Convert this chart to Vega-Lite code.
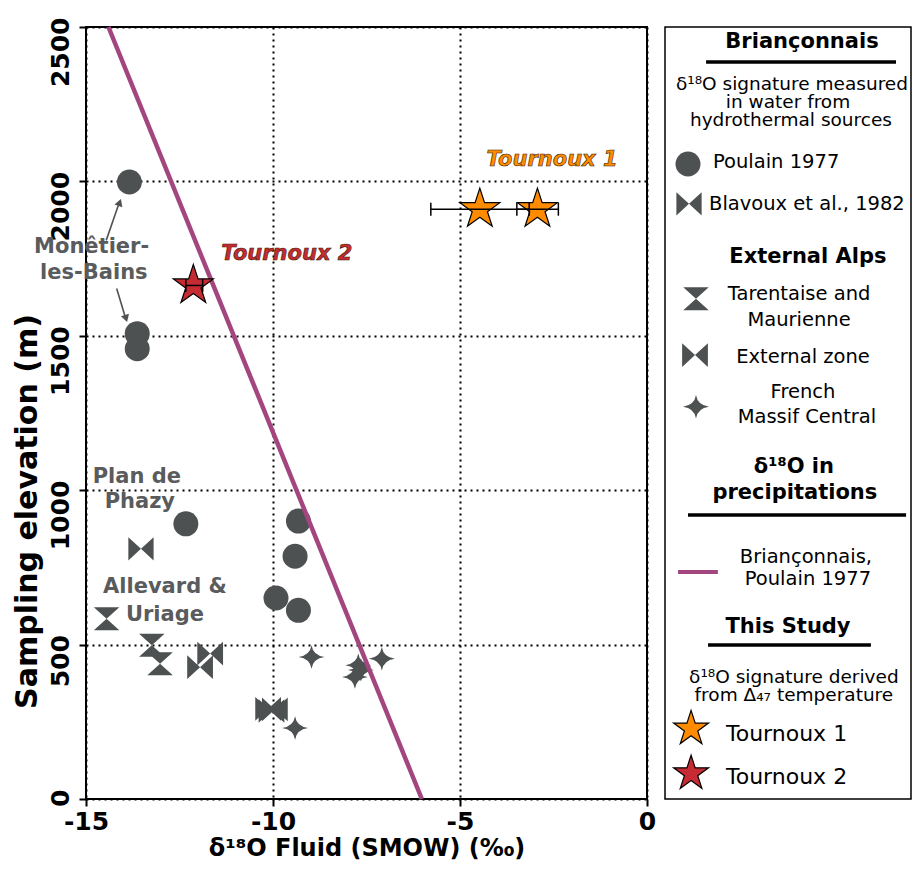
{
  "$schema": "https://vega.github.io/schema/vega-lite/v6.json",
  "background": "white",
  "padding": {"left": 11, "top": 15, "right": 1, "bottom": 0},
  "spacing": 7,
  "config": {
    "font": "DejaVu Sans",
    "view": {"stroke": null},
    "axis": {
      "labelFont": "DejaVu Sans", "labelFontWeight": "bold", "labelFontSize": 25, "labelColor": "black",
      "titleFont": "DejaVu Sans", "titleFontWeight": "bold", "titleFontSize": 26, "titleColor": "black",
      "tickColor": "black", "tickWidth": 2, "tickSize": 7, "domain": false, "labelFlush": false, "labelOverlap": false,
      "gridColor": "black", "gridDash": [2, 4], "gridWidth": 2, "gridOpacity": 1, "labelPadding": 3,
      "labelExpr": "'' + datum.value"
    },
    "axisY": {"labelAngle": -90, "labelAlign": "right", "labelBaseline": "bottom", "labelPadding": 6, "labelOffset": -10, "titlePadding": 6, "titleFontSize": 30, "titleY": 484},
    "axisX": {"titlePadding": 2, "titleFontSize": 24}
  },
  "datasets": {
    "obs": [
      {"group": "Poulain", "x": -13.84, "y": 1998},
      {"group": "Poulain", "x": -13.63, "y": 1507},
      {"group": "Poulain", "x": -13.63, "y": 1458},
      {"group": "Poulain", "x": -12.33, "y": 891},
      {"group": "Poulain", "x": -9.32, "y": 900},
      {"group": "Poulain", "x": -9.41, "y": 786},
      {"group": "Poulain", "x": -9.92, "y": 651},
      {"group": "Poulain", "x": -9.32, "y": 611},
      {"group": "Blavoux", "x": -13.53, "y": 810},
      {"group": "Tarentaise", "x": -14.45, "y": 584},
      {"group": "Tarentaise", "x": -13.24, "y": 498},
      {"group": "Tarentaise", "x": -13.02, "y": 438},
      {"group": "External", "x": -11.68, "y": 471},
      {"group": "External", "x": -11.95, "y": 427},
      {"group": "External", "x": -10.13, "y": 292},
      {"group": "External", "x": -10.04, "y": 285},
      {"group": "External", "x": -9.95, "y": 290},
      {"group": "Massif", "x": -8.97, "y": 460},
      {"group": "Massif", "x": -7.72, "y": 433},
      {"group": "Massif", "x": -7.81, "y": 395},
      {"group": "Massif", "x": -7.65, "y": 418},
      {"group": "Massif", "x": -7.09, "y": 454},
      {"group": "Massif", "x": -9.41, "y": 230}
    ],
    "stars": [
      {"sample": "Tournoux 1", "x": -4.47, "y": 1910, "lo": -5.78, "hi": -3.15},
      {"sample": "Tournoux 1", "x": -2.93, "y": 1910, "lo": -3.48, "hi": -2.37},
      {"sample": "Tournoux 2", "x": -12.13, "y": 1663, "lo": -12.33, "hi": -11.88}
    ],
    "precip": [
      {"x": -14.4, "y": 2500},
      {"x": -6.02, "y": 0}
    ],
    "sites": [
      {"x": -14.85, "y": 1787, "text": "Monêtier-"},
      {"x": -14.79, "y": 1704, "text": "les-Bains"},
      {"x": -13.64, "y": 1043, "text": "Plan de"},
      {"x": -13.56, "y": 962, "text": "Phazy"},
      {"x": -12.89, "y": 687, "text": "Allevard &"},
      {"x": -12.89, "y": 596, "text": "Uriage"}
    ],
    "samplelabels": [
      {"x": -2.54, "y": 2069, "sample": "Tournoux 1"},
      {"x": -9.63, "y": 1765, "sample": "Tournoux 2"}
    ],
    "arrows": [
      {"x": -14.46, "y": 1809, "x2": -14.1, "y2": 1935},
      {"x": -14.18, "y": 1653, "x2": -13.93, "y2": 1553}
    ],
    "legtext": [
      {"cls": "head", "x": 55.7, "y": 1.94, "text": "Briançonnais"},
      {"cls": "head", "x": 58.1, "y": 29.8, "text": "External Alps"},
      {"cls": "head", "x": 52.4, "y": 57.0, "text": "δ¹⁸O in"},
      {"cls": "head", "x": 52.8, "y": 60.4, "text": "precipitations"},
      {"cls": "head", "x": 50.0, "y": 77.7, "text": "This Study"},
      {"cls": "body", "x": 51.6, "y": 7.38, "text": "δ¹⁸O signature measured"},
      {"cls": "body", "x": 50.0, "y": 9.71, "text": "in water from"},
      {"cls": "body", "x": 51.2, "y": 12.05, "text": "hydrothermal sources"},
      {"cls": "body", "x": 52.4, "y": 84.2, "text": "δ¹⁸O signature derived"},
      {"cls": "body", "x": 52.4, "y": 86.5, "text": "from Δ₄₇ temperature"},
      {"cls": "label", "x": 54.5, "y": 34.6, "text": "Tarentaise and"},
      {"cls": "label", "x": 54.5, "y": 37.95, "text": "Maurienne"},
      {"cls": "label", "x": 56.1, "y": 42.7, "text": "External zone"},
      {"cls": "label", "x": 56.1, "y": 47.3, "text": "French"},
      {"cls": "label", "x": 57.7, "y": 50.5, "text": "Massif Central"},
      {"cls": "label", "x": 57.3, "y": 68.65, "text": "Briançonnais,"},
      {"cls": "label", "x": 58.1, "y": 71.5, "text": "Poulain 1977"},
      {"cls": "item", "x": 19.5, "y": 17.5, "text": "Poulain 1977"},
      {"cls": "item", "x": 17.9, "y": 22.9, "text": "Blavoux et al., 1982"},
      {"cls": "big", "x": 24.8, "y": 91.6, "text": "Tournoux 1"},
      {"cls": "big", "x": 24.8, "y": 97.15, "text": "Tournoux 2"}
    ],
    "legsym": [
      {"group": "Poulain", "x": 9.35, "y": 17.75},
      {"group": "Blavoux", "x": 9.76, "y": 22.9},
      {"group": "Tarentaise", "x": 12.6, "y": 35.2},
      {"group": "External", "x": 12.2, "y": 42.5},
      {"group": "Massif", "x": 12.6, "y": 49.2}
    ],
    "legstar": [
      {"sample": "Tournoux 1", "x": 10.6, "y": 90.9},
      {"sample": "Tournoux 2", "x": 10.6, "y": 96.7}
    ],
    "legrule": [
      {"x": 16.7, "x2": 93.9, "y": 4.53},
      {"x": 9.35, "x2": 98.0, "y": 63.2},
      {"x": 17.5, "x2": 83.7, "y": 80.05}
    ],
    "legline": [
      {"x": 5.3, "y": 70.6},
      {"x": 21.5, "y": 70.6}
    ]
  },
  "hconcat": [
    {
      "width": 561,
      "height": 772,
      "view": {"stroke": "black", "strokeWidth": 2},
      "layer": [
        {
          "data": {"name": "obs"},
          "mark": {"type": "point", "filled": true, "opacity": 1, "strokeWidth": 0, "color": "#4e5152"},
          "encoding": {
            "x": {"field": "x", "type": "quantitative", "scale": {"domain": [-15, 0], "nice": false, "zero": false}, "axis": {"values": [-15, -10, -5, 0], "grid": true}, "title": "δ¹⁸O Fluid (SMOW) (‰)"},
            "y": {"field": "y", "type": "quantitative", "scale": {"domain": [0, 2500], "nice": false}, "axis": {"values": [0, 500, 1000, 1500, 2000, 2500], "grid": true}, "title": "Sampling elevation (m)"},
            "shape": {"field": "group", "type": "nominal", "legend": null, "scale": {"domain": ["Poulain", "Blavoux", "Tarentaise", "External", "Massif"], "range": ["circle", "M-1,-0.92L0,0L-1,0.92ZM1,-0.92L0,0L1,0.92Z", "M-1,-0.9L1,-0.9L0,0ZM-1,0.9L1,0.9L0,0Z", "M-1,-0.92L0,0L-1,0.92ZM1,-0.92L0,0L1,0.92Z", "M0,-0.9Q0.12,-0.12 1,0Q0.12,0.12 0,0.9Q-0.12,0.12 -1,0Q-0.12,-0.12 0,-0.9Z"]}},
            "size": {"field": "group", "type": "nominal", "legend": null, "scale": {"domain": ["Poulain", "Blavoux", "Tarentaise", "External", "Massif"], "range": [625, 676, 625, 676, 760]}}
          }
        },
        {
          "data": {"name": "precip"},
          "mark": {"type": "line", "color": "#a3467f", "strokeWidth": 4.5},
          "encoding": {
            "x": {"field": "x", "type": "quantitative", "title": "δ¹⁸O Fluid (SMOW) (‰)"},
            "y": {"field": "y", "type": "quantitative", "title": "Sampling elevation (m)"}
          }
        },
        {
          "data": {"name": "stars"},
          "mark": {"type": "point", "filled": true, "opacity": 1, "stroke": "black", "strokeWidth": 1.2, "shape": "M0,-1L0.2245,-0.309L0.951,-0.309L0.363,0.118L0.588,0.809L0,0.382L-0.588,0.809L-0.363,0.118L-0.951,-0.309L-0.2245,-0.309Z", "size": 1770},
          "encoding": {
            "x": {"field": "x", "type": "quantitative", "title": "δ¹⁸O Fluid (SMOW) (‰)"},
            "y": {"field": "y", "type": "quantitative", "title": "Sampling elevation (m)"},
            "fill": {"field": "sample", "type": "nominal", "legend": null, "scale": {"domain": ["Tournoux 1", "Tournoux 2"], "range": ["#ff8c00", "#c62b33"]}}
          }
        },
        {
          "data": {"name": "stars"},
          "mark": {"type": "rule", "color": "black", "strokeWidth": 1.5},
          "encoding": {
            "x": {"field": "lo", "type": "quantitative", "title": "δ¹⁸O Fluid (SMOW) (‰)"},
            "x2": {"field": "hi"},
            "y": {"field": "y", "type": "quantitative", "title": "Sampling elevation (m)"}
          }
        },
        {
          "data": {"name": "stars"},
          "mark": {"type": "point", "filled": false, "opacity": 1, "stroke": "black", "strokeWidth": 1.5, "shape": "M0,-1L0,1", "size": 169},
          "encoding": {
            "x": {"field": "lo", "type": "quantitative", "title": "δ¹⁸O Fluid (SMOW) (‰)"},
            "y": {"field": "y", "type": "quantitative", "title": "Sampling elevation (m)"}
          }
        },
        {
          "data": {"name": "stars"},
          "mark": {"type": "point", "filled": false, "opacity": 1, "stroke": "black", "strokeWidth": 1.5, "shape": "M0,-1L0,1", "size": 169},
          "encoding": {
            "x": {"field": "hi", "type": "quantitative", "title": "δ¹⁸O Fluid (SMOW) (‰)"},
            "y": {"field": "y", "type": "quantitative", "title": "Sampling elevation (m)"}
          }
        },
        {
          "data": {"name": "arrows"},
          "mark": {"type": "rule", "color": "#505253", "strokeWidth": 1.6},
          "encoding": {
            "x": {"field": "x", "type": "quantitative", "title": "δ¹⁸O Fluid (SMOW) (‰)"},
            "y": {"field": "y", "type": "quantitative", "title": "Sampling elevation (m)"},
            "x2": {"field": "x2"},
            "y2": {"field": "y2"}
          }
        },
        {
          "data": {"values": [{"x": -14.1, "y": 1932}]},
          "mark": {"type": "point", "filled": true, "opacity": 1, "color": "#505253", "strokeWidth": 0, "shape": "triangle-up", "size": 70, "angle": 19.5},
          "encoding": {
            "x": {"field": "x", "type": "quantitative", "title": "δ¹⁸O Fluid (SMOW) (‰)"},
            "y": {"field": "y", "type": "quantitative", "title": "Sampling elevation (m)"}
          }
        },
        {
          "data": {"values": [{"x": -13.93, "y": 1556}]},
          "mark": {"type": "point", "filled": true, "opacity": 1, "color": "#505253", "strokeWidth": 0, "shape": "triangle-up", "size": 70, "angle": 163.3},
          "encoding": {
            "x": {"field": "x", "type": "quantitative", "title": "δ¹⁸O Fluid (SMOW) (‰)"},
            "y": {"field": "y", "type": "quantitative", "title": "Sampling elevation (m)"}
          }
        },
        {
          "data": {"name": "sites"},
          "mark": {"type": "text", "font": "DejaVu Sans", "fontWeight": "bold", "fontSize": 21, "color": "#595b5c", "align": "center", "baseline": "middle"},
          "encoding": {
            "x": {"field": "x", "type": "quantitative", "title": "δ¹⁸O Fluid (SMOW) (‰)"},
            "y": {"field": "y", "type": "quantitative", "title": "Sampling elevation (m)"},
            "text": {"field": "text"}
          }
        },
        {
          "data": {"name": "samplelabels"},
          "mark": {"type": "text", "font": "DejaVu Sans", "fontWeight": "bold", "fontStyle": "italic", "fontSize": 21, "align": "center", "baseline": "middle", "stroke": "#3a1a00", "strokeWidth": 0.6},
          "encoding": {
            "x": {"field": "x", "type": "quantitative", "title": "δ¹⁸O Fluid (SMOW) (‰)"},
            "y": {"field": "y", "type": "quantitative", "title": "Sampling elevation (m)"},
            "text": {"field": "sample"},
            "fill": {"field": "sample", "type": "nominal", "legend": null, "scale": {"domain": ["Tournoux 1", "Tournoux 2"], "range": ["#ff8c00", "#c62b33"]}}
          }
        }
      ]
    },
    {
      "width": 246,
      "height": 772,
      "view": {"stroke": "black", "strokeWidth": 1.5},
      "encoding": {
        "x": {"field": "x", "type": "quantitative", "scale": {"domain": [0, 100]}, "axis": null},
        "y": {"field": "y", "type": "quantitative", "scale": {"domain": [0, 100], "reverse": true}, "axis": null}
      },
      "layer": [
        {
          "data": {"name": "legrule"},
          "mark": {"type": "rule", "color": "black", "strokeWidth": 3.5},
          "encoding": {"x2": {"field": "x2"}}
        },
        {
          "data": {"name": "legline"},
          "mark": {"type": "line", "color": "#a3467f", "strokeWidth": 4},
          "encoding": {}
        },
        {
          "data": {"name": "legsym"},
          "mark": {"type": "point", "filled": true, "opacity": 1, "strokeWidth": 0, "color": "#4e5152"},
          "encoding": {
            "shape": {"field": "group", "type": "nominal", "legend": null, "scale": {"domain": ["Poulain", "Blavoux", "Tarentaise", "External", "Massif"], "range": ["circle", "M-0.9,-1L0,0L-0.9,1ZM0.9,-1L0,0L0.9,1Z", "M-1,-0.9L1,-0.9L0,0ZM-1,0.9L1,0.9L0,0Z", "M-0.9,-1L0,0L-0.9,1ZM0.9,-1L0,0L0.9,1Z", "M0,-1Q0.12,-0.12 1,0Q0.12,0.12 0,1Q-0.12,0.12 -1,0Q-0.12,-0.12 0,-1Z"]}},
            "size": {"field": "group", "type": "nominal", "legend": null, "scale": {"domain": ["Poulain", "Blavoux", "Tarentaise", "External", "Massif"], "range": [729, 676, 676, 729, 784]}}
          }
        },
        {
          "data": {"name": "legstar"},
          "mark": {"type": "point", "filled": true, "opacity": 1, "stroke": "black", "strokeWidth": 1.2, "shape": "M0,-1L0.2245,-0.309L0.951,-0.309L0.363,0.118L0.588,0.809L0,0.382L-0.588,0.809L-0.363,0.118L-0.951,-0.309L-0.2245,-0.309Z", "size": 1350},
          "encoding": {
            "fill": {"field": "sample", "type": "nominal", "legend": null, "scale": {"domain": ["Tournoux 1", "Tournoux 2"], "range": ["#ff8c00", "#c62b33"]}}
          }
        },
        {
          "data": {"name": "legtext"},
          "transform": [{"filter": "datum.cls === 'head'"}],
          "mark": {"type": "text", "font": "DejaVu Sans", "fontWeight": "bold", "fontSize": 21, "color": "black", "align": "center", "baseline": "middle"},
          "encoding": {"text": {"field": "text"}}
        },
        {
          "data": {"name": "legtext"},
          "transform": [{"filter": "datum.cls === 'body'"}],
          "mark": {"type": "text", "font": "DejaVu Sans", "fontSize": 18.5, "color": "black", "align": "center", "baseline": "middle"},
          "encoding": {"text": {"field": "text"}}
        },
        {
          "data": {"name": "legtext"},
          "transform": [{"filter": "datum.cls === 'label'"}],
          "mark": {"type": "text", "font": "DejaVu Sans", "fontSize": 19.5, "color": "black", "align": "center", "baseline": "middle"},
          "encoding": {"text": {"field": "text"}}
        },
        {
          "data": {"name": "legtext"},
          "transform": [{"filter": "datum.cls === 'item'"}],
          "mark": {"type": "text", "font": "DejaVu Sans", "fontSize": 19.5, "color": "black", "align": "left", "baseline": "middle"},
          "encoding": {"text": {"field": "text"}}
        },
        {
          "data": {"name": "legtext"},
          "transform": [{"filter": "datum.cls === 'big'"}],
          "mark": {"type": "text", "font": "DejaVu Sans", "fontSize": 22, "color": "black", "align": "left", "baseline": "middle"},
          "encoding": {"text": {"field": "text"}}
        }
      ]
    }
  ]
}
